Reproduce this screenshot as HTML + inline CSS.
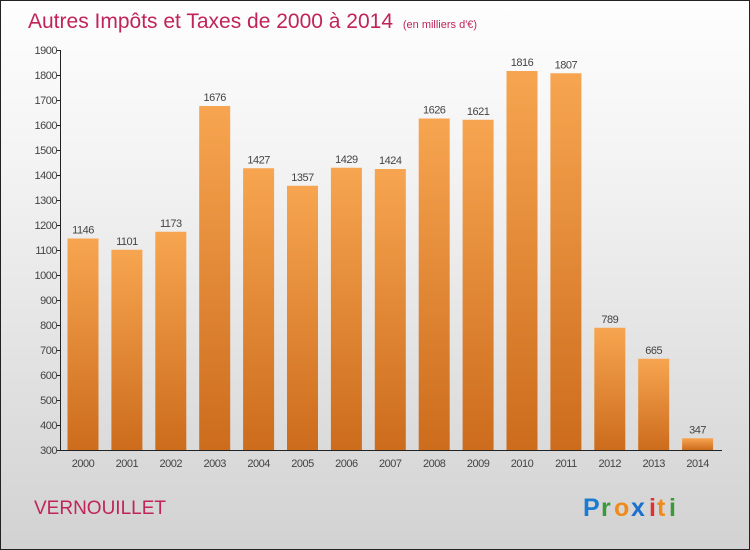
<!DOCTYPE html>
<html><head><meta charset="utf-8"><style>
body{margin:0}
#c{position:relative;width:748px;height:548px;border:1px solid #222;background:linear-gradient(#fefefe,#f3f3f3 30%,#d2d2d2);font-family:"Liberation Sans",sans-serif;overflow:hidden}
</style></head><body>
<div id="c">
<svg width="748" height="548" id="s">
<defs><linearGradient id="g" x1="0" y1="0" x2="0" y2="1"><stop offset="0" stop-color="#f7a550"/><stop offset="1" stop-color="#cc6c1c"/></linearGradient></defs>
<text x="27" y="27" font-size="21" fill="#c0245a">Autres Impôts et Taxes de 2000 à 2014 <tspan font-size="11" dx="4">(en milliers d'€)</tspan></text>
<text x="33" y="513" font-size="19" fill="#c0245a">VERNOUILLET</text>
<g font-size="25" font-weight="bold">
<text x="582" y="515" fill="#1a7bd0">P</text><text x="600" y="515" fill="#3a9a3a">r</text><text x="613" y="515" fill="#f08a1a">o</text><text x="630" y="515" fill="#1a6fd0">x</text><text x="648" y="515" fill="#e03030">i</text><text x="656" y="515" fill="#f08a1a">t</text><text x="668" y="515" fill="#3a9a3a">i</text></g>
<g id="plot"></g>
</svg></div>
<script>
const categories=["2000","2001","2002","2003","2004","2005","2006","2007","2008","2009","2010","2011","2012","2013","2014"];
const values=[1146,1101,1173,1676,1427,1357,1429,1424,1626,1621,1816,1807,789,665,347];
const yTicks=[300,400,500,600,700,800,900,1000,1100,1200,1300,1400,1500,1600,1700,1800,1900];
const NS="http://www.w3.org/2000/svg";
const p=document.getElementById('plot');
const y=v=>449-(v-300)*0.25;
const x=i=>82+i*43.9;
function mk(t,a){const e=document.createElementNS(NS,t);for(const k in a)e.setAttribute(k,a[k]);p.appendChild(e);return e;}
let ax=mk('line',{x1:59.5,x2:59.5,y1:49,y2:449,stroke:'#222'});


yTicks.forEach(v=>{
 const t=mk('line',{x1:56,x2:60,y1:y(v)+0.5,y2:y(v)+0.5,stroke:'#222'});
 
 
 const l=mk('text',{x:56,y:y(v)+4,'font-size':11,'text-anchor':'end',fill:'#444','letter-spacing':'-0.5'});
 l.textContent=v;
 
 
});
values.forEach((v,i)=>{
 const b=mk('rect',{x:x(i)-15.5,y:y(v),width:31,height:449-y(v),fill:'url(#g)'});
 
 
 const l=mk('text',{x:x(i),y:y(v)-5,'font-size':11,'text-anchor':'middle',fill:'#444','letter-spacing':'-0.5'});
 l.textContent=v;
 
 
 const c=mk('text',{x:x(i),y:466,'font-size':11,'text-anchor':'middle',fill:'#444','letter-spacing':'-0.5'});
 c.textContent=categories[i];
 
 
});
let xa=mk('line',{x1:59,x2:721,y1:449.5,y2:449.5,stroke:'#222'});


</script>
</body></html>
